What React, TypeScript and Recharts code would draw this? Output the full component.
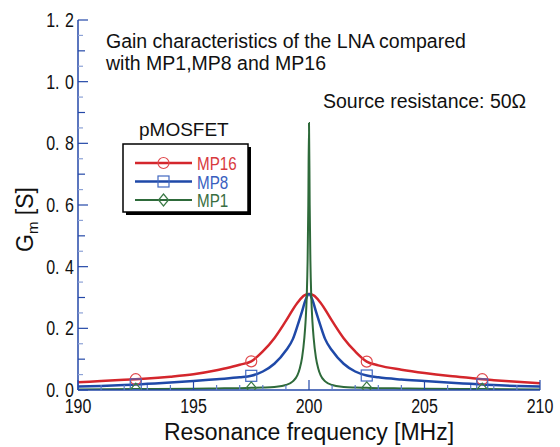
import { LineChart, Line, XAxis, YAxis } from "recharts";

// resonance frequency [MHz] and Gm [S]
const mp16Freq = [190, 191, 192, 192.5, 193, 194, 195, 196, 196.5, 197, 197.5, 198, 198.5, 199, 199.5, 199.8, 200, 200.2, 200.5, 201, 201.5, 202, 202.5, 203, 204, 205, 206, 207, 207.5, 208, 209, 210];
const mp16Gm = [0.025, 0.029, 0.033, 0.035, 0.037, 0.043, 0.051, 0.064, 0.072, 0.082, 0.093, 0.125, 0.168, 0.224, 0.283, 0.307, 0.311, 0.307, 0.283, 0.224, 0.168, 0.125, 0.092, 0.08, 0.066, 0.055, 0.046, 0.039, 0.035, 0.032, 0.027, 0.022];

const mp8Freq = [190, 191, 192, 192.5, 193, 194, 195, 196, 197, 197.5, 198, 198.5, 199, 199.3, 199.5, 199.7, 199.85, 200, 200.15, 200.3, 200.5, 200.7, 201, 201.5, 202, 202.5, 203, 204, 205, 206, 207, 207.5, 208, 209, 210];
const mp8Gm = [0.011, 0.013, 0.016, 0.018, 0.02, 0.024, 0.029, 0.035, 0.041, 0.046, 0.06, 0.085, 0.128, 0.165, 0.208, 0.255, 0.292, 0.311, 0.292, 0.255, 0.208, 0.165, 0.128, 0.085, 0.06, 0.047, 0.041, 0.034, 0.029, 0.024, 0.02, 0.018, 0.016, 0.013, 0.011];

const mp1Freq = [190, 192.5, 195, 196, 197, 197.5, 198, 198.5, 199, 199.3, 199.5, 199.6, 199.7, 199.8, 199.85, 199.9, 199.94, 199.97, 200, 200.03, 200.06, 200.1, 200.15, 200.2, 200.3, 200.4, 200.5, 200.7, 201, 201.5, 202, 202.5, 203, 204, 205, 207.5, 210];
const mp1Gm = [0.002, 0.003, 0.004, 0.005, 0.006, 0.007, 0.008, 0.01, 0.016, 0.028, 0.048, 0.07, 0.105, 0.17, 0.22, 0.3, 0.42, 0.6, 0.866, 0.6, 0.42, 0.3, 0.22, 0.17, 0.105, 0.07, 0.048, 0.028, 0.016, 0.01, 0.008, 0.007, 0.006, 0.005, 0.004, 0.003, 0.002];

const markerFreqs = [192.5, 197.5, 202.5, 207.5];

const xTicks = [190, 191, 192, 193, 194, 195, 196, 197, 198, 199, 200, 201, 202, 203, 204, 205, 206, 207, 208, 209, 210];
const yTicks = [0, 0.05, 0.1, 0.15, 0.2, 0.25, 0.3, 0.35, 0.4, 0.45, 0.5, 0.55, 0.6, 0.65, 0.7, 0.75, 0.8, 0.85, 0.9, 0.95, 1.0, 1.05, 1.1, 1.15, 1.2];

const toRows = (freq: number[], gm: number[]) => freq.map((f, i) => ({ f, gm: gm[i] }));

const series = [
  { name: "MP16", data: toRows(mp16Freq, mp16Gm), color: "#d4262c", mark: "#e0484c", text: "#d83a3e", shape: "circle", width: 2.5 },
  { name: "MP8", data: toRows(mp8Freq, mp8Gm), color: "#1f49a8", mark: "#4268c0", text: "#3a5fbf", shape: "square", width: 2.5 },
  { name: "MP1", data: toRows(mp1Freq, mp1Gm), color: "#2e6a3a", mark: "#3b7a46", text: "#3a6e42", shape: "diamond", width: 2 },
];

const AXIS = "#2448a8";
const TEXT_FONT = "'Liberation Sans', Arial, sans-serif";

// condensed text, like the narrow gothic face of the original
function Narrow({ x, y, anchor = "start", size = 20, fill = "#111", children }: any) {
  return (
    <text
      transform={`translate(${x},${y}) scale(0.8,1)`}
      textAnchor={anchor}
      fontSize={size}
      fontFamily={TEXT_FONT}
      fill={fill}
    >
      {children}
    </text>
  );
}

function Marker({ shape, x, y, color }: { shape: string; x: number; y: number; color: string }) {
  if (shape === "circle") return <circle cx={x} cy={y} r={5.5} fill="none" stroke={color} strokeWidth={1.2} />;
  if (shape === "square") return <rect x={x - 5.5} y={y - 5.5} width={11} height={11} fill="none" stroke={color} strokeWidth={1.2} />;
  return <path d={`M${x},${y - 6}L${x + 5},${y}L${x},${y + 6}L${x - 5},${y}Z`} fill="none" stroke={color} strokeWidth={1.2} />;
}

const makeDot = (shape: string, color: string) => (props: any) => {
  const { cx, cy, payload, index } = props;
  if (cx == null || cy == null || !markerFreqs.includes(payload.f)) return <g key={index} />;
  return (
    <g key={index}>
      <Marker shape={shape} x={cx} y={cy} color={color} />
    </g>
  );
};

const tier = (v: number) => {
  const k = Math.round(v * 100);
  return k % 20 === 0 ? 2 : k % 10 === 0 ? 1 : 0;
};

function LeftTick({ x, y, payload }: any) {
  const t = tier(payload.value);
  const len = [5, 7, 10][t];
  const [a, b] = payload.value.toFixed(1).split(".");
  return (
    <g>
      <line x1={x} x2={x + len} y1={y} y2={y} stroke={t === 0 ? "#8da2d6" : AXIS} strokeWidth={1.2} />
      {t === 2 && (
        <Narrow x={x - 4} y={y + 7} anchor="end">
          <tspan>{a}.</tspan>
          <tspan dx={7}>{b}</tspan>
        </Narrow>
      )}
    </g>
  );
}

function RightTick({ x, y, payload }: any) {
  const t = tier(payload.value);
  const len = [5, 7, 10][t];
  return <line x1={x} x2={x - len} y1={y} y2={y} stroke={t === 0 ? "#8da2d6" : AXIS} strokeWidth={1.2} />;
}

function BottomTick({ x, y, payload }: any) {
  const major = payload.value % 5 === 0;
  return (
    <g>
      <line x1={x} x2={x} y1={y} y2={y - (major ? 10 : 5)} stroke={major ? AXIS : "#5e7cc8"} strokeWidth={1.2} />
      {major && (
        <Narrow x={x} y={y + 23} anchor="middle">
          {payload.value}
        </Narrow>
      )}
    </g>
  );
}

function TopTick({ x, y, payload }: any) {
  const major = payload.value % 5 === 0;
  return <line x1={x} x2={x} y1={y} y2={y + (major ? 8 : 5)} stroke={major ? AXIS : "#5e7cc8"} strokeWidth={1.2} />;
}

function LegendBox() {
  const rowY = [163, 181.5, 200];
  return (
    <g>
      <text x={139} y={136} fontSize={19} fontFamily={TEXT_FONT} fill="#111">pMOSFET</text>
      <rect x={126} y={147} width={125} height={68} fill="#000" />
      <rect x={123} y={144} width={125} height={68} fill="#fff" stroke="#000" strokeWidth={1.5} />
      {series.map((s, i) => (
        <g key={s.name}>
          <line x1={135} x2={192} y1={rowY[i]} y2={rowY[i]} stroke={s.color} strokeWidth={s.width} />
          <Marker shape={s.shape} x={163.5} y={rowY[i]} color={s.mark} />
          <Narrow x={197} y={rowY[i] + 7} size={19} fill={s.text}>{s.name}</Narrow>
        </g>
      ))}
    </g>
  );
}

export default function App() {
  return (
    <div style={{ position: "absolute", left: 0, top: 0, width: 560, height: 447, background: "#fff" }}>
      <LineChart width={560} height={447} margin={{ top: 20, right: 20, left: 0, bottom: 0 }}>
        <XAxis
          xAxisId={0}
          dataKey="f"
          type="number"
          domain={[190, 210]}
          ticks={xTicks}
          allowDataOverflow
          height={57}
          tickSize={0}
          tickMargin={0}
          tickLine={false}
          axisLine={{ stroke: AXIS, strokeWidth: 1.5 }}
          tick={<BottomTick />}
          interval={0}
        />
        <XAxis
          xAxisId="top"
          orientation="top"
          dataKey="f"
          type="number"
          domain={[190, 210]}
          ticks={xTicks}
          allowDataOverflow
          height={0}
          tickSize={0}
          tickMargin={0}
          tickLine={false}
          axisLine={{ stroke: AXIS, strokeWidth: 1.5 }}
          tick={<TopTick />}
          interval={0}
        />
        <YAxis
          yAxisId={0}
          type="number"
          domain={[0, 1.2]}
          ticks={yTicks}
          allowDataOverflow
          width={78}
          tickSize={0}
          tickMargin={0}
          tickLine={false}
          axisLine={{ stroke: AXIS, strokeWidth: 1.5 }}
          tick={<LeftTick />}
          interval={0}
        />
        <YAxis
          yAxisId="right"
          orientation="right"
          type="number"
          domain={[0, 1.2]}
          ticks={yTicks}
          allowDataOverflow
          width={0}
          tickSize={0}
          tickMargin={0}
          tickLine={false}
          axisLine={{ stroke: AXIS, strokeWidth: 1.5 }}
          tick={<RightTick />}
          interval={0}
        />
        {series.map((s) => (
          <Line
            key={s.name}
            data={s.data}
            dataKey="gm"
            name={s.name}
            type="monotone"
            stroke={s.color}
            strokeWidth={s.width}
            dot={makeDot(s.shape, s.mark)}
            activeDot={false}
            isAnimationActive={false}
          />
        ))}
      </LineChart>
      <svg width={560} height={447} style={{ position: "absolute", left: 0, top: 0, pointerEvents: "none" }}>
        <text x={106} y={48} fontSize={19.5} fontFamily={TEXT_FONT} fill="#111">Gain characteristics of the LNA compared</text>
        <text x={106} y={70} fontSize={19.5} fontFamily={TEXT_FONT} fill="#111">with MP1,MP8 and MP16</text>
        <text x={323} y={108} fontSize={19.5} fontFamily={TEXT_FONT} fill="#111">Source resistance: 50Ω</text>
        <LegendBox />
        <text x={309} y={440} textAnchor="middle" fontSize={23} fontFamily={TEXT_FONT} fill="#111">
          Resonance frequency [MHz]
        </text>
        <text transform="translate(33,252) rotate(-90)" textAnchor="start" fontSize={23} fontFamily={TEXT_FONT} fill="#111">
          G<tspan fontSize={15} dy={5}>m</tspan>
          <tspan dy={-5}> [S]</tspan>
        </text>
      </svg>
    </div>
  );
}
